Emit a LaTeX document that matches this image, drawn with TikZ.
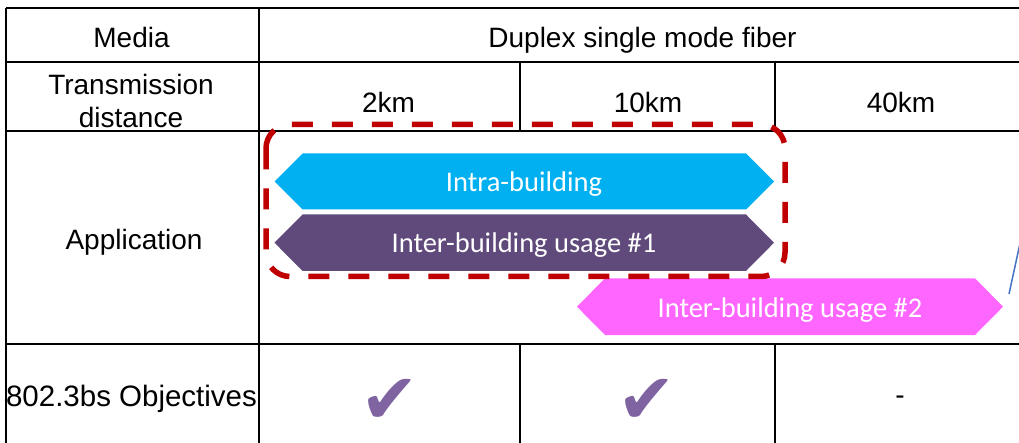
\documentclass[tikz,border=0pt]{standalone}
\usepackage{fontspec}
\setmainfont{Liberation Sans}
\newfontfamily\calib{Carlito}
\newfontfamily\dejavu{DejaVu Sans}
\definecolor{intraC}{HTML}{00B0F0}
\definecolor{interA}{HTML}{604A7B}
\definecolor{interB}{HTML}{FF66FF}
\definecolor{redC}{HTML}{C00000}
\definecolor{chkC}{HTML}{8064A2}
\definecolor{blueC}{HTML}{4472C4}
\begin{document}
\begin{tikzpicture}[x=1pt,y=-1pt,
  grid/.style={line width=1.6pt, draw=black},
  hdr/.style={font=\fontsize{28}{32}\selectfont, anchor=base, inner sep=0pt},
  lbl/.style={font=\calib\fontsize{28.5}{32}\selectfont, text=white, anchor=base, inner sep=0pt},
  chk/.style={font=\dejavu\fontsize{70}{70}\selectfont, text=chkC, inner sep=0pt, anchor=center},
  zone/.style={draw=redC, line width=5.5pt, dash pattern=on 21pt off 19pt, rounded corners=24pt}]
\useasboundingbox (0,0) rectangle (1019,443);
\clip (0,0) rectangle (1019,443);
\fill[white] (0,0) rectangle (1019,443);
% table grid
\draw[grid] (6,8) -- (1025,8);
\draw[grid] (6,62) -- (1025,62);
\draw[grid] (6,131) -- (1025,131);
\draw[grid] (6,344) -- (1025,344);
\draw[grid] (6,8) -- (6,450);
\draw[grid] (259,8) -- (259,450);
\draw[grid] (520,62) -- (520,131);
\draw[grid] (775,62) -- (775,131);
\draw[grid] (520,344) -- (520,450);
\draw[grid] (775,344) -- (775,450);
% header texts
\node[hdr] (media) at (131.5,48) {Media};
\node[hdr] (duplex) at (642.5,48) {Duplex single mode fiber};
\node[hdr] (trans) at (131,95) {Transmission};
\node[hdr] (dist) at (131,128) {distance};
\node[hdr] (d2) at (388.5,113) {2km};
\node[hdr] (d10) at (648,113) {10km};
\node[hdr] (d40) at (901,113) {40km};
\node[hdr] (app) at (134,250) {Application};
\node[hdr, font=\fontsize{29.5}{32}\selectfont] (obj) at (131.5,406.5) {802.3bs Objectives};
\node[hdr] (dash) at (900,404) {-};
% application arrows
\fill[intraC] (274.5,181.5) -- (302.5,153.5) -- (746,153.5) -- (774,181.5) -- (746,209.5) -- (302.5,209.5) -- cycle;
\node[lbl] (intra) at (524,191.5) {Intra-building};
\fill[interA] (274.5,242.7) -- (302.5,214.5) -- (746,214.5) -- (774,242.7) -- (746,271) -- (302.5,271) -- cycle;
\node[lbl] (inter1) at (524,252.7) {Inter-building usage \#1};
\fill[interB] (577,306.7) -- (605,278.3) -- (975,278.3) -- (1003,306.7) -- (975,335) -- (605,335) -- cycle;
\node[lbl] (inter2) at (790,317) {Inter-building usage \#2};
% dashed zone
\draw[zone] (266,124.5) rectangle (785,276.5);
% blue line
\coordinate (bl1) at (1009,294);
\coordinate (bl2) at (1020.5,241);
\draw[blueC, line width=1.5pt] (bl1) -- (bl2);
% checkmarks
\node[chk] (chk1) at (390,401) {✔};
\node[chk] (chk2) at (647,401) {✔};
\end{tikzpicture}
\end{document}
